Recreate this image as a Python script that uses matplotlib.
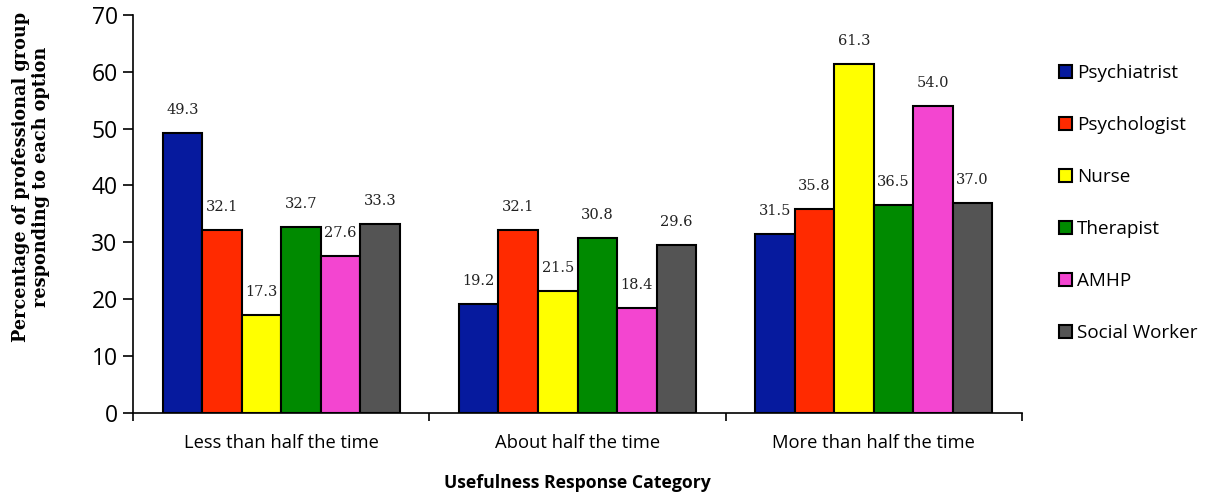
import numpy as np
import matplotlib.pyplot as plt
from matplotlib.patches import Patch

categories = ['Less than half the time', 'About half the time', 'More than half the time']
groups = ['Psychiatrist', 'Psychologist', 'Nurse', 'Therapist', 'AMHP', 'Social Worker']
psychiatrist = [49.3, 19.2, 31.5]
psychologist = [32.1, 32.1, 35.8]
nurse = [17.3, 21.5, 61.3]
therapist = [32.7, 30.8, 36.5]
amhp = [27.6, 18.4, 54.0]
social_worker = [33.3, 29.6, 37.0]
colors = ['#061a9e', '#ff2a00', '#ffff00', '#008a00', '#f345d0', '#545454']

series = [psychiatrist, psychologist, nurse, therapist, amhp, social_worker]

fig = plt.figure(figsize=(12.13, 4.94), dpi=100)
ax = fig.add_axes([0.1096, 0.164, 0.733, 0.806])

x = np.arange(len(categories))
w = 0.8 / len(groups)
for i, (vals, col) in enumerate(zip(series, colors)):
    pos = x - 0.4 + w * (i + 0.5)
    ax.bar(pos, vals, width=w, color=col, edgecolor='black', linewidth=1.5, zorder=3)
    for px, v in zip(pos, vals):
        ax.text(px, v + 2.8, f'{v:.1f}', ha='center', va='bottom',
                fontsize=10.5, family='DejaVu Serif', color='#222222')

ax.set_xlim(-0.5, 2.5)
ax.set_ylim(0, 70)
ax.set_yticks(range(0, 71, 10))
ax.tick_params(axis='y', labelsize=16.5, length=7, width=1.2, direction='out', pad=4)
ax.set_xticks([-0.5, 0.5, 1.5, 2.5])
ax.set_xticklabels([])
ax.set_xticks(x, minor=True)
ax.set_xticklabels(categories, minor=True, fontsize=13.2, family='Open Sans')
ax.tick_params(axis='x', which='major', length=6, width=1.2, direction='out')
ax.tick_params(axis='x', which='minor', length=0, pad=15)
for lab in ax.get_yticklabels():
    lab.set_family('Open Sans')
ax.spines['top'].set_visible(False)
ax.spines['right'].set_visible(False)
ax.spines['left'].set_linewidth(1.2)
ax.spines['bottom'].set_linewidth(1.2)

ax.set_xlabel('Usefulness Response Category', fontsize=12.7, fontweight='bold',
              family='Open Sans', labelpad=16)
fig.text(0.0256, 0.642, 'Percentage of professional group\nresponding to each option',
         rotation=90, ha='center', va='center', fontsize=12.7, fontweight='bold',
         family='DejaVu Serif', linespacing=1.1)

handles = [Patch(facecolor=c, edgecolor='black', linewidth=1.5) for c in colors]
fig.legend(handles, groups, loc='upper left', bbox_to_anchor=(0.859, 0.905),
           frameon=False, prop={'family': 'Open Sans', 'size': 13.6},
           handlelength=0.7, handleheight=0.7, handletextpad=0.25, labelspacing=1.8)

plt.savefig('out.png', dpi=100)
